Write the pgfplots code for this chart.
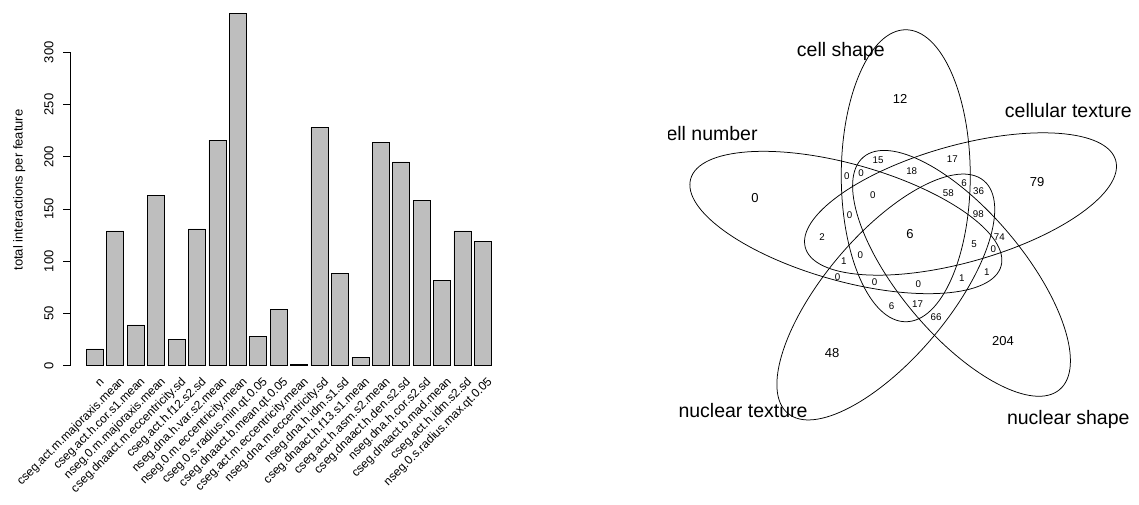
\documentclass[border=0pt]{standalone}
\usepackage{fontspec}
\setmainfont{Liberation Sans}
\usepackage{pgfplots}
\pgfplotsset{compat=1.18}
\definecolor{barfill}{RGB}{190,190,190}
\begin{document}
\begin{tikzpicture}
\useasboundingbox (0pt,0pt) rectangle (1139pt,504pt);
% ---------------- bar chart ----------------
\begin{axis}[
  at={(70.1pt,124pt)}, anchor=south west, scale only axis,
  width=437.5pt, height=380pt,
  xmin=-0.752, xmax=24.952, ymin=-13.7, ymax=350.05,
  axis x line*=bottom, axis y line*=left,
  x axis line style={draw=none}, y axis line style={draw=none},
  ytick={0,50,100,150,200,250,300},
  tick align=outside, major tick length=7pt,
  ytick style={black, line width=0.6pt},
  xtick style={draw=none},
  xtick={1.15,2.35,3.55,4.75,5.95,7.15,8.35,9.55,10.75,11.95,13.15,14.35,15.55,16.75,17.95,19.15,20.35,21.55,22.75,23.95},
  xticklabels={n,cseg.act.m.majoraxis.mean,cseg.act.h.cor.s1.mean,nseg.0.m.majoraxis.mean,cseg.dnaact.m.eccentricity.sd,cseg.act.h.f12.s2.sd,nseg.dna.h.var.s2.mean,nseg.0.m.eccentricity.mean,cseg.0.s.radius.min.qt.0.05,cseg.dnaact.b.mean.qt.0.05,cseg.act.m.eccentricity.mean,nseg.dna.m.eccentricity.sd,nseg.dna.h.idm.s1.sd,cseg.dnaact.h.f13.s1.mean,cseg.act.h.asm.s2.mean,cseg.dnaact.h.den.s2.sd,nseg.dna.h.cor.s2.sd,cseg.dnaact.b.mad.mean,cseg.act.h.idm.s2.sd,nseg.0.s.radius.max.qt.0.05},
  /pgf/number format/assume math mode=true,
  yticklabel style={font=\fontsize{13}{15}\selectfont, xshift=-9.5pt, rotate=90, anchor=south, inner sep=0pt},
  xticklabel style={font=\fontsize{12}{14}\selectfont, yshift=7pt, rotate=45, anchor=east, inner sep=0pt},
  ylabel={total interactions per feature},
  ylabel style={font=\fontsize{13}{15}\selectfont, at={(axis description cs:-0.1088,0.5)}, anchor=base, inner sep=0pt},
  clip=false,
]
\addplot[ybar, bar width=1, bar shift=0pt, fill=barfill, draw=black, line width=0.6pt]
coordinates {(0.7,16) (1.9,129) (3.1,39) (4.3,163) (5.5,25) (6.7,131) (7.9,216) (9.1,337) (10.3,28) (11.5,54) (12.7,1) (13.9,228) (15.1,88) (16.3,8) (17.5,214) (18.7,195) (19.9,158) (21.1,82) (22.3,129) (23.5,119)};
\draw[line width=0.6pt] (axis cs:-0.752,0) -- (axis cs:-0.752,300);
\end{axis}
% ---------------- Venn diagram ----------------
\begin{axis}[
  at={(668pt,0pt)}, anchor=south west, scale only axis,
  width=471pt, height=504pt,
  xmin=668, xmax=1139, ymin=0, ymax=504, hide axis, clip=true,
]
\draw[line width=0.75pt] (axis cs:905.75,328.25) ellipse [x radius=64.5pt, y radius=146pt];
\draw[line width=0.75pt, rotate around={-15.70:(axis cs:845.85,281.5)}] (axis cs:845.85,281.5) ellipse [x radius=161.2pt, y radius=58.43pt];
\draw[line width=0.75pt, rotate around={15.70:(axis cs:960.5,300)}] (axis cs:960.5,300) ellipse [x radius=161.2pt, y radius=58.43pt];
\draw[line width=0.75pt, rotate around={-49.84:(axis cs:961.5,230.65)}] (axis cs:961.5,230.65) ellipse [x radius=152.1pt, y radius=61.9pt];
\draw[line width=0.75pt, rotate around={49.84:(axis cs:885.8,207)}] (axis cs:885.8,207) ellipse [x radius=152.1pt, y radius=61.9pt];
% category labels
\begin{scope}[every node/.style={font=\fontsize{19.5}{22}\selectfont, inner sep=0pt}]
\node[anchor=base] at (axis cs:840.8,447.7) {cell shape};
\node[anchor=base] at (axis cs:1068.3,386) {cellular texture};
\node[anchor=base east] at (axis cs:757.8,363.5) {cell number};
\node[anchor=base] at (axis cs:743,86.7) {nuclear texture};
\node[anchor=base] at (axis cs:1068.3,80) {nuclear shape};
\end{scope}
% single-set and centre counts
\begin{scope}[every node/.style={font=\fontsize{13}{15}\selectfont, inner sep=0pt}]
\node at (axis cs:900,405) {12};
\node at (axis cs:755,306) {0};
\node at (axis cs:1037,322) {79};
\node at (axis cs:1003,163) {204};
\node at (axis cs:832,151) {48};
\node at (axis cs:910,270) {6};
\end{scope}
% intersection counts
\begin{scope}[every node/.style={font=\fontsize{9.75}{11}\selectfont, inner sep=0pt}]
\node at (axis cs:878,344) {15};
\node at (axis cs:952.3,345) {17};
\node at (axis cs:846.7,328.3) {0};
\node at (axis cs:861,331.3) {0};
\node at (axis cs:911.7,333) {18};
\node at (axis cs:964,321.3) {6};
\node at (axis cs:978.5,313) {36};
\node at (axis cs:872.7,309) {0};
\node at (axis cs:948.3,310.7) {58};
\node at (axis cs:978.3,290) {98};
\node at (axis cs:849.5,289) {0};
\node at (axis cs:822,267.3) {2};
\node at (axis cs:999.3,267.3) {74};
\node at (axis cs:974,260) {5};
\node at (axis cs:993.3,255) {0};
\node at (axis cs:860.2,249) {0};
\node at (axis cs:843.8,243) {1};
\node at (axis cs:986.7,232) {1};
\node at (axis cs:837.5,227.3) {0};
\node at (axis cs:961.7,226) {1};
\node at (axis cs:874.5,222.3) {0};
\node at (axis cs:918.3,220) {0};
\node at (axis cs:891.5,198) {6};
\node at (axis cs:917.5,199.5) {17};
\node at (axis cs:936,187.3) {66};
\end{scope}
\end{axis}
\end{tikzpicture}
\end{document}
